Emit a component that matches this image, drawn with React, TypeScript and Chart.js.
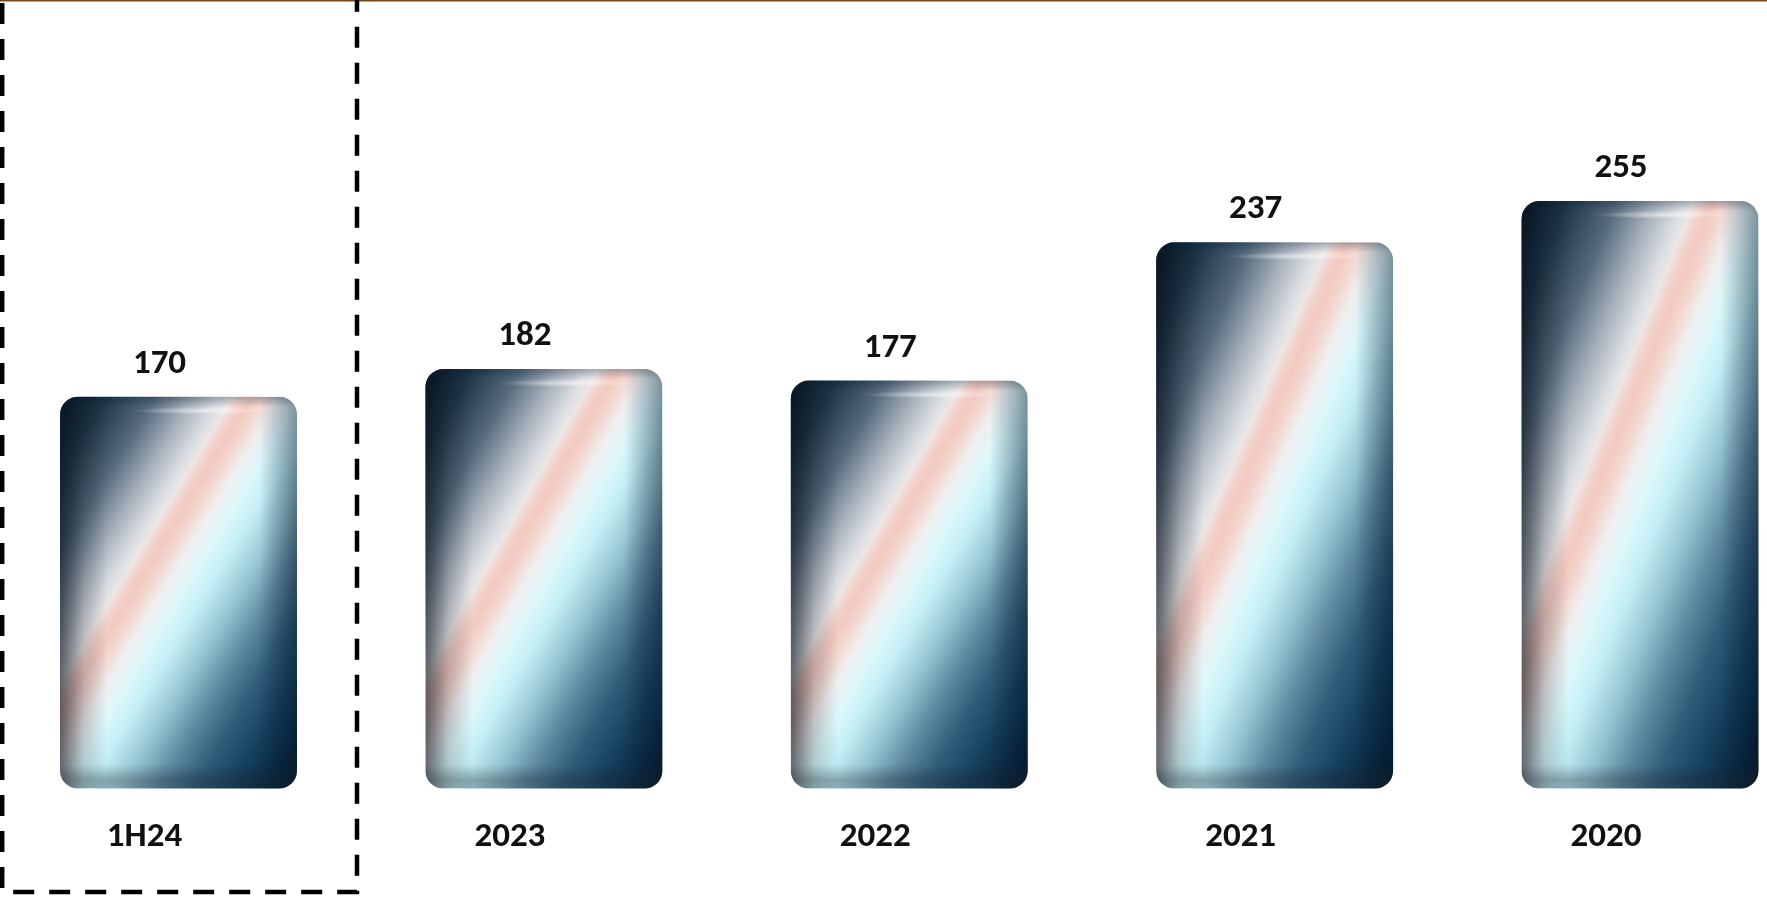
import React, { useEffect, useRef } from 'react';
import { Chart, registerables } from 'chart.js';

Chart.register(...registerables);

// ---- Data ----
const categories: string[] = ['1H24', '2023', '2022', '2021', '2020'];
const values: number[] = [170, 182, 177, 237, 255];
const valueLabels: string[] = ['170', '182', '177', '237', '255'];

const FONT = 'Carlito, Calibri, Lato, sans-serif';

const gradientStops: [number, string][] = [
  [0.0, '#06182a'],
  [0.1, '#1f3749'],
  [0.2, '#55697c'],
  [0.28, '#a5afba'],
  [0.34, '#dadde2'],
  [0.365, '#ece6e6'],
  [0.385, '#f2d2ca'],
  [0.405, '#f2c9c0'],
  [0.43, '#f3d6cf'],
  [0.465, '#f0eeef'],
  [0.51, '#dcf8fb'],
  [0.56, '#c3eef5'],
  [0.63, '#97c4d2'],
  [0.7, '#618ca3'],
  [0.78, '#315d7a'],
  [0.86, '#15405e'],
  [0.93, '#0a2a44'],
  [1.0, '#051828'],
];

function barGradient(ctx: CanvasRenderingContext2D, left: number, top: number, w: number, h: number) {
  const n2 = h * h + w * w;
  const x1 = left + (2 * w * h * h) / n2;
  const y1 = top + (2 * w * h * w) / n2;
  const g = ctx.createLinearGradient(left, top, x1, y1);
  gradientStops.forEach(([t, c]) => g.addColorStop(t, c));
  return g;
}

function barGeom(el: any) {
  const { x, y, base, width } = el.getProps(['x', 'y', 'base', 'width'], true);
  const left = x - width / 2;
  const top = Math.min(y, base);
  const h = Math.abs(base - y);
  return { x, left, top, w: width, h };
}

const RADIUS = 18;

const barStyler = {
  id: 'barStyler',
  beforeDatasetsDraw(chart: any) {
    const meta = chart.getDatasetMeta(0);
    meta.data.forEach((el: any) => {
      const { left, top, w, h } = barGeom(el);
      el.options.backgroundColor = barGradient(chart.ctx, left, top, w, h);
    });
  },
  afterDatasetsDraw(chart: any) {
    const ctx: CanvasRenderingContext2D = chart.ctx;
    const meta = chart.getDatasetMeta(0);
    meta.data.forEach((el: any, i: number) => {
      const { x, left, top, w, h } = barGeom(el);
      const right = left + w;
      const bottom = top + h;
      ctx.save();
      ctx.beginPath();
      (ctx as any).roundRect(left, top, w, h, RADIUS);
      ctx.clip();
      // left edge shading
      let g = ctx.createLinearGradient(left, 0, left + w * 0.2, 0);
      g.addColorStop(0, 'rgba(10,18,28,0.62)');
      g.addColorStop(0.5, 'rgba(10,18,28,0.2)');
      g.addColorStop(1, 'rgba(10,18,28,0)');
      ctx.fillStyle = g;
      ctx.fillRect(left, top, w * 0.2, h);
      // right edge shading
      g = ctx.createLinearGradient(right - w * 0.16, 0, right, 0);
      g.addColorStop(0, 'rgba(4,24,44,0)');
      g.addColorStop(1, 'rgba(4,24,44,0.45)');
      ctx.fillStyle = g;
      ctx.fillRect(right - w * 0.16, top, w * 0.16, h);
      // top dark rim
      g = ctx.createLinearGradient(0, top, 0, top + 10);
      g.addColorStop(0, 'rgba(10,30,50,0.3)');
      g.addColorStop(1, 'rgba(10,30,50,0)');
      ctx.fillStyle = g;
      ctx.fillRect(left, top, w, 10);
      // top highlight
      ctx.save();
      ctx.translate(left + w * 0.6, top + 14);
      ctx.scale(w * 0.3, 4);
      const rg = ctx.createRadialGradient(0, 0, 0, 0, 0, 1);
      rg.addColorStop(0, 'rgba(255,255,255,0.55)');
      rg.addColorStop(1, 'rgba(255,255,255,0)');
      ctx.fillStyle = rg;
      ctx.beginPath();
      ctx.arc(0, 0, 1, 0, Math.PI * 2);
      ctx.fill();
      ctx.restore();
      // bottom shadow
      g = ctx.createLinearGradient(0, bottom - 24, 0, bottom);
      g.addColorStop(0, 'rgba(30,36,42,0)');
      g.addColorStop(0.65, 'rgba(30,36,42,0.3)');
      g.addColorStop(1, 'rgba(30,36,42,0.22)');
      ctx.fillStyle = g;
      ctx.fillRect(left, bottom - 24, w, 24);
      ctx.restore();

      // value label
      ctx.save();
      ctx.font = `bold 35px ${FONT}`;
      ctx.fillStyle = '#111111';
      ctx.textAlign = 'center';
      ctx.textBaseline = 'alphabetic';
      ctx.fillText(valueLabels[i], x - 19, top - 24);
      ctx.restore();
    });
  },
  afterDraw(chart: any) {
    const ctx: CanvasRenderingContext2D = chart.ctx;
    ctx.save();
    // top brown rule
    ctx.strokeStyle = '#6e4a1e';
    ctx.lineWidth = 1.5;
    ctx.beginPath();
    ctx.moveTo(0, 0.75);
    ctx.lineTo(chart.width, 0.75);
    ctx.stroke();
    // dashed highlight box around first category
    ctx.strokeStyle = '#000000';
    ctx.lineWidth = 4.5;
    ctx.setLineDash([21, 15]);
    ctx.beginPath();
    ctx.moveTo(2.2, 3);
    ctx.lineTo(2.2, 892);
    ctx.lineTo(357, 892);
    ctx.lineTo(357, 0);
    ctx.stroke();
    ctx.restore();
  },
};

export default function App() {
  const canvasRef = useRef<HTMLCanvasElement | null>(null);

  useEffect(() => {
    const canvas = canvasRef.current;
    if (!canvas) return;
    const chart = new Chart(canvas, {
      type: 'bar',
      data: {
        labels: categories,
        datasets: [
          {
            data: values,
            backgroundColor: () => '#2a4a62',
            borderWidth: 0,
            borderRadius: RADIUS,
            borderSkipped: false,
            categoryPercentage: 1,
            barPercentage: 0.6486,
            clip: false as any,
          } as any,
        ],
      },
      options: {
        responsive: false,
        animation: false,
        devicePixelRatio: 1,
        layout: { padding: { left: 178.5, right: 127, top: 5, bottom: 20.5 } },
        plugins: {
          legend: { display: false },
          tooltip: { enabled: false },
        },
        scales: {
          x: {
            offset: false,
            grid: { display: false },
            border: { display: false },
            ticks: {
              color: '#111111',
              font: { family: FONT, size: 35, weight: 'bold' },
              padding: 19.5,
              labelOffset: -34,
              maxRotation: 0,
              autoSkip: false,
            },
          },
          y: {
            display: false,
            min: 0,
            max: 340,
          },
        },
      },
      plugins: [barStyler],
    });
    return () => chart.destroy();
  }, []);

  return (
    <div style={{ position: 'absolute', left: 0, top: 0, width: 1767, height: 898, background: '#ffffff' }}>
      <canvas ref={canvasRef} width={1767} height={898} style={{ display: 'block' }} />
    </div>
  );
}
